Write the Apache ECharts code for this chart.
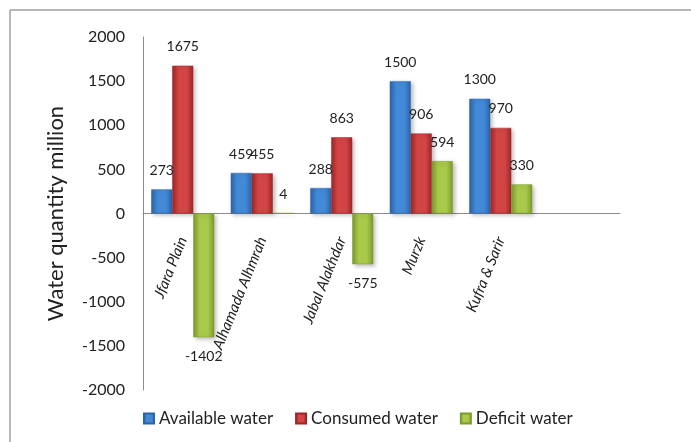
<!DOCTYPE html>
<html>
<head>
<meta charset="utf-8">
<script src="https://cdn.jsdelivr.net/npm/echarts@6/dist/echarts.min.js"></script>
<style>
  html, body { margin: 0; padding: 0; background: #fff; }
  #chart { width: 691px; height: 442px; }
</style>
</head>
<body>
<div id="chart"></div>
<script>
// Water balance per basin (million m³)
const regions = ['Jfara Plain', 'Alhamada Alhmrah', 'Jabal Alakhdar', 'Murzk', 'Kufra & Sarir'];
const available = [273, 459, 288, 1500, 1300];
const consumed = [1675, 455, 863, 906, 970];
const deficit = [-1402, 4, -575, 594, 330];
const seriesNames = ['Available water', 'Consumed water', 'Deficit water'];
const yAxisTitle = 'Water quantity million';
const yTicks = { min: -2000, max: 2000, step: 500 };

const FONT = 'Lato, "Noto Sans", sans-serif';
const GRID = { left: 143, right: 71, top: 37, bottom: 52 };
const plotHeight = 442 - GRID.top - GRID.bottom;
// distance from the plot bottom up to the zero line
const zeroOffset = plotHeight * (0 - yTicks.min) / (yTicks.max - yTicks.min);

// bevelled look: dark edges, light middle
function bevel(edge, mid) {
  return new echarts.graphic.LinearGradient(0, 0, 1, 0, [
    { offset: 0, color: edge },
    { offset: 0.3, color: mid },
    { offset: 0.7, color: mid },
    { offset: 1, color: edge }
  ]);
}

const palette = [
  { edge: '#2c64a8', mid: '#4289d8', legend: '#3a79c4' },
  { edge: '#9e2628', mid: '#d24545', legend: '#c13638' },
  { edge: '#7d9a2c', mid: '#a8c94a', legend: '#98b83c' }
];

function makeSeries(name, values, idx) {
  const c = palette[idx];
  return {
    name: name,
    type: 'bar',
    barWidth: 21,
    barGap: '0%',
    data: values.map(v => ({
      value: v,
      label: { position: v < 0 ? 'bottom' : 'top' }
    })),
    itemStyle: {
      color: bevel(c.edge, c.mid),
      borderColor: c.edge,
      borderWidth: 0.5,
      shadowBlur: 4,
      shadowOffsetX: 2,
      shadowOffsetY: 2,
      shadowColor: 'rgba(0,0,0,0.25)'
    },
    label: {
      show: true,
      distance: 12,
      color: '#222',
      fontFamily: FONT,
      fontSize: 14
    }
  };
}

const chart = echarts.init(document.getElementById('chart'), null, { renderer: 'canvas' });

chart.setOption({
  animation: false,
  backgroundColor: '#fff',
  color: palette.map(p => p.legend),
  graphic: [
    { type: 'line', shape: { x1: 10, y1: 10, x2: 691, y2: 10 }, style: { stroke: '#a0a0a0', lineWidth: 1.5 } },
    { type: 'line', shape: { x1: 10, y1: 10, x2: 10, y2: 442 }, style: { stroke: '#a0a0a0', lineWidth: 1.5 } },
    {
      type: 'text',
      x: 56,
      y: GRID.top + plotHeight / 2,
      rotation: Math.PI / 2,
      style: {
        text: yAxisTitle,
        fill: '#222',
        font: '22px ' + FONT,
        align: 'center',
        verticalAlign: 'middle',
        textAlign: 'center',
        textVerticalAlign: 'middle'
      }
    }
  ],
  grid: Object.assign({ containLabel: false, outerBoundsMode: 'none' }, GRID),
  legend: {
    left: 138,
    top: 405,
    itemWidth: 10,
    itemHeight: 10,
    itemGap: 22,
    icon: 'rect',
    textStyle: { fontFamily: FONT, fontSize: 17, color: '#222', padding: [0, 0, 0, 0] },
    data: seriesNames
  },
  xAxis: {
    type: 'category',
    position: 'bottom',
    offset: -zeroOffset,
    data: regions.concat(['']),
    axisLine: { onZero: false, lineStyle: { color: '#8c8c8c', width: 1 } },
    axisTick: { show: false },
    axisLabel: {
      rotate: 68,
      margin: 24,
      interval: 0,
      fontFamily: FONT,
      fontStyle: 'italic',
      fontSize: 15,
      color: '#222'
    }
  },
  yAxis: {
    type: 'value',
    min: yTicks.min,
    max: yTicks.max,
    interval: yTicks.step,
    axisLine: { show: true, lineStyle: { color: '#8c8c8c', width: 1 } },
    axisTick: { show: false },
    splitLine: { show: false },
    axisLabel: {
      margin: 18,
      fontFamily: FONT,
      fontSize: 16,
      color: '#222',
      formatter: v => String(v)
    }
  },
  series: [
    makeSeries(seriesNames[0], available, 0),
    makeSeries(seriesNames[1], consumed, 1),
    makeSeries(seriesNames[2], deficit, 2)
  ]
});
</script>
</body>
</html>
